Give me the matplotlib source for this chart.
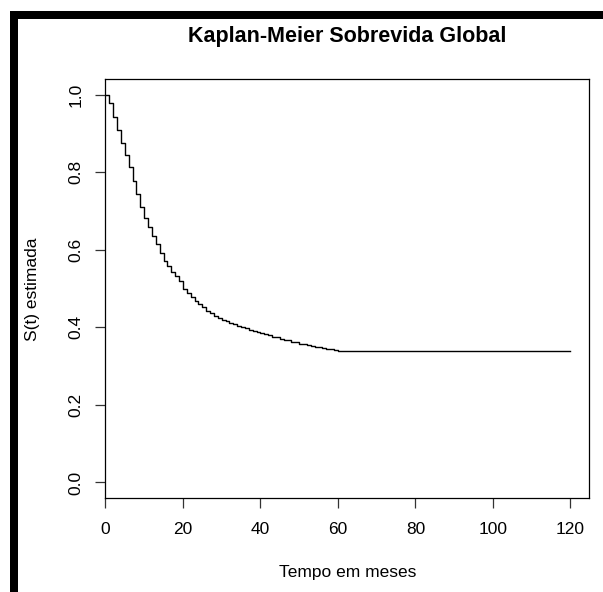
"""
Kaplan-Meier overall survival curve (monthly estimates)
"""
import matplotlib
matplotlib.use('Agg')
import matplotlib.pyplot as plt
from matplotlib.patches import Rectangle

plt.rcParams['font.family'] = ['Liberation Sans', 'DejaVu Sans']

# Step times (months) and estimated S(t)
months = [0, 1, 2, 3, 4, 5, 6, 7, 8, 9, 10, 11, 12, 13, 14, 15, 16, 17, 18, 19, 20,
          21, 22, 23, 24, 25, 26, 27, 28, 29, 30, 31, 32, 33, 34, 35, 36, 37, 38, 39, 40,
          41, 42, 43, 44, 45, 46, 47, 48, 49, 50, 51, 52, 53, 54, 55, 56, 57, 58, 59, 60,
          120]
surv = [1.000, 0.977, 0.941, 0.908, 0.875, 0.843, 0.812, 0.777, 0.744, 0.710, 0.682,
        0.658, 0.636, 0.614, 0.592, 0.572, 0.559, 0.543, 0.532, 0.519, 0.500,
        0.488, 0.479, 0.469, 0.461, 0.452, 0.443, 0.437, 0.428, 0.424, 0.420,
        0.416, 0.412, 0.408, 0.404, 0.401, 0.397, 0.393, 0.390, 0.387, 0.385,
        0.382, 0.379, 0.376, 0.374, 0.371, 0.368, 0.366, 0.363, 0.361, 0.358,
        0.356, 0.354, 0.352, 0.350, 0.348, 0.347, 0.345, 0.343, 0.342, 0.340,
        0.340]

x_ticks = [0, 20, 40, 60, 80, 100, 120]
y_ticks = [0.0, 0.2, 0.4, 0.6, 0.8, 1.0]

W, H = 603, 592
fig = plt.figure(figsize=(W / 100, H / 100), dpi=100)
fig.patch.set_facecolor('white')

# black frame on top and left edge
fig.add_artist(Rectangle((10 / W, 1 - 19 / H), 1 - 10 / W, 8 / H,
                         transform=fig.transFigure, color='black', lw=0))
fig.add_artist(Rectangle((10 / W, 0), 8 / W, 1 - 11 / H,
                         transform=fig.transFigure, color='black', lw=0))

ax = fig.add_axes([105.4 / W, 1 - 498 / H, (589 - 105.4) / W, (498 - 79) / H])
ax.step(months, surv, where='post', color='black', linewidth=1.0)

ax.set_xlim(0, 124.8)
ax.set_ylim(-0.04, 1.04)
ax.set_xticks(x_ticks)
ax.set_xticklabels([str(t) for t in x_ticks])
ax.set_yticks(y_ticks)
ax.set_yticklabels([f'{t:.1f}' for t in y_ticks], rotation=90, va='center')
ax.tick_params(axis='both', direction='out', length=7, width=0.9,
               labelsize=12.5, color='#333333')
ax.tick_params(axis='x', pad=10)
ax.tick_params(axis='y', pad=9)
for s in ax.spines.values():
    s.set_linewidth(0.9)

fig.text(347 / W, 1 - 36.5 / H, 'Kaplan-Meier Sobrevida Global',
         ha='center', va='center', fontsize=15.5, fontweight='bold')
fig.text(347.5 / W, 1 - 573 / H, 'Tempo em meses', ha='center', va='center', fontsize=12.5)
fig.text(33 / W, 1 - 289 / H, 'S(t) estimada', ha='center', va='center',
         rotation=90, fontsize=12.5)

fig.savefig('out.png', dpi=100, facecolor='white')
